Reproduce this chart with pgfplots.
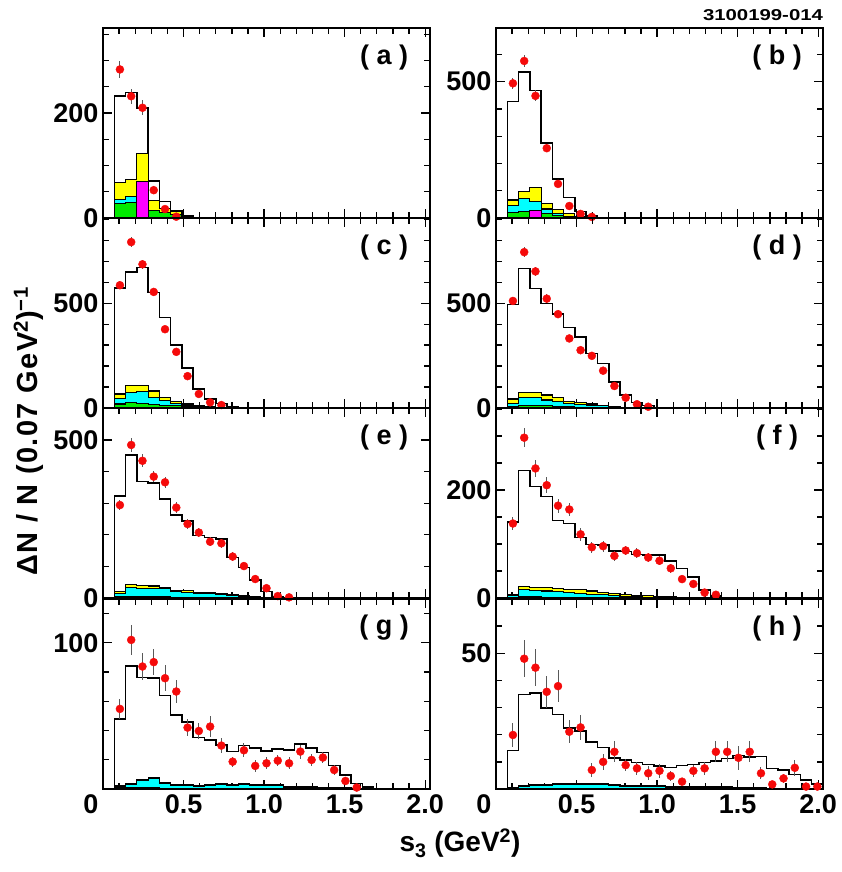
\documentclass[border=0pt]{standalone}
\usepackage{fontspec}
\setmainfont{Liberation Sans}
\usepackage{graphicx}
\usepackage{pgfplots}
\pgfplotsset{compat=1.18}
\usepackage{pgfplotstable}

\definecolor{cyel}{RGB}{255,255,0}
\definecolor{ccya}{RGB}{0,255,255}
\definecolor{cgrn}{RGB}{0,235,0}
\definecolor{cmag}{RGB}{255,0,255}
\definecolor{cred}{RGB}{245,10,10}

% histogram tables: x = left bin edge; last row closes the last bin
\pgfplotstableread{
x tot yel cya grn
0.07 232 67 36 27
0.14 239 74 41 30
0.21 210 123 45 25
0.28 70 34 14 14
0.35 31 18 10 10
0.42 14 12 7 7
0.49 4 2 1 1
0.56 1 0 0 0
0.63 1 0 0 0
}\hA
\pgfplotstableread{
x y e
0.105 283 16
0.175 232 14
0.245 210 14
0.315 53 7
0.385 17 4
0.455 2.5 2
}\dA

\pgfplotstableread{
x tot yel cya grn
0.07 427 66 45 20
0.14 535 97 72 23
0.21 467 113 60 23
0.28 276 54 33 15
0.35 143 32 15 10
0.42 76 17 5 5
0.49 23 5 2 2
0.56 7 0 0 0
0.63 7 0 0 0
}\hB
\pgfplotstableread{
x y e
0.105 494 20
0.175 576 22
0.245 448 20
0.315 256 15
0.385 125 11
0.455 44 6
0.525 15 4
0.595 4 2
}\dB

\pgfplotstableread{
x tot yel cya grn
0.07 573 67 46 19
0.14 649 106 73 25
0.21 670 106 78 22
0.28 551 81 51 18
0.35 432 51 35 12
0.42 300 33 22 10
0.49 192 19 14 6
0.56 90 11 7 3
0.63 43 6 3 2
0.70 22 3 2 1
0.77 7 1 0 0
0.84 2 0 0 0
0.91 2 0 0 0
}\hC
\pgfplotstableread{
x y e
0.105 586 20
0.175 792 24
0.245 686 22
0.315 554 20
0.385 376 17
0.455 268 14
0.525 152 11
0.595 67 8
0.665 27 5
0.735 14 4
}\dC

\pgfplotstableread{
x tot yel cya grn
0.07 495 43 22 6
0.14 665 73 49 14
0.21 570 76 51 11
0.28 498 62 38 10
0.35 448 51 30 8
0.42 384 33 22 5
0.49 340 27 17 4
0.56 260 19 14 3
0.63 213 14 11 2
0.70 125 6 6 1
0.77 62 4 3 1
0.84 27 2 1 0
0.91 11 1 0 0
0.98 3 0 0 0
1.05 3 0 0 0
}\hD
\pgfplotstableread{
x y e
0.105 511 20
0.175 744 24
0.245 652 22
0.315 522 20
0.385 448 19
0.455 332 16
0.525 276 15
0.595 249 14
0.665 178 12
0.735 105 9
0.805 49 6
0.875 18 4
0.945 6 2
}\dD

\pgfplotstableread{
x tot yel cya grn
0.07 323 20 15 3
0.14 453 43 33 5
0.21 368 40 31 5
0.28 363 38 30 4
0.35 313 34 29 3
0.42 263 25 21 2
0.49 244 24 18 2
0.56 197 17 15 1
0.63 191 16 14 1
0.70 187 13 11 1
0.77 128 10 8 0
0.84 97 7 5 0
0.91 57 4 3 0
0.98 20 2 1 0
1.05 4 0 0 0
1.12 1 0 0 0
1.19 1 0 0 0
}\hE
\pgfplotstableread{
x y e
0.105 294 17
0.175 484 21
0.245 434 20
0.315 384 18
0.385 366 18
0.455 286 17
0.525 234 16
0.595 207 14
0.665 178 14
0.735 173 15
0.805 131 13
0.875 101 12
0.945 60 10
1.015 31 8
1.085 6 5
1.155 2 3
}\dE

\pgfplotstableread{
x tot yel cya grn
0.07 141 7 4 1
0.14 236 21 16 2
0.21 207 20 14 2
0.28 188 19 13 1
0.35 144 17 12 1
0.42 138 16 11 1
0.49 112 15 9 0
0.56 99 13 7 0
0.63 98 11 6 0
0.70 87 9 5 0
0.77 86 7 3 0
0.84 81 5 2 0
0.91 80 4 1 0
0.98 80 3 1 0
1.05 69 2 0 0
1.12 55 1 0 0
1.19 39 1 0 0
1.26 15 0 0 0
1.33 4 0 0 0
1.40 1 0 0 0
1.47 1 0 0 0
}\hF
\pgfplotstableread{
x y e
0.105 138 12
0.175 297 18
0.245 240 15
0.315 209 15
0.385 171 13
0.455 164 12
0.525 118 12
0.595 94 10
0.665 96 10
0.735 78 9
0.805 88 9
0.875 83 9
0.945 75 9
1.015 69 8
1.085 55 8
1.155 35 6
1.225 26 6
1.295 10 4
1.365 6 3
}\dF

\pgfplotstableread{
x tot yel cya grn
0.07 48 2.6 2 0.8
0.14 84.2 4 3.4 0.8
0.21 76.3 6.3 5.7 0.8
0.28 75.8 7.6 7 0.8
0.35 63.9 4.5 3.9 0.6
0.42 50.7 3.3 2.7 0.5
0.49 45.7 2.9 2.3 0
0.56 35.2 2.4 1.8 0
0.63 33.6 3.3 2.7 0
0.70 30.1 3.8 3.2 0
0.77 25.6 3.3 2.7 0
0.84 29.7 3.8 3.2 0
0.91 27.9 3.3 2.7 0
0.98 26 3.1 2.5 0
1.05 27.4 2.9 2.3 0
1.12 26.7 1.7 1.1 0
1.19 30.8 1.6 1 0
1.26 27.9 1.4 0.8 0
1.33 25.1 1.2 0.6 0
1.40 16 1 0.4 0
1.47 9.6 0.8 0.3 0
1.54 3.9 0.4 0 0
1.61 1.2 0 0 0
1.68 1.2 0 0 0
}\hG
\pgfplotstableread{
x y e
0.105 54.8 7
0.175 102 10
0.245 83.8 9
0.315 86.8 9
0.385 75.8 9
0.455 66.7 8
0.525 42 6
0.595 39.7 5.6
0.665 42.7 7
0.735 29.7 5
0.805 18.7 3.5
0.875 26.5 4.8
0.945 15.8 3.9
1.015 17.6 4
1.085 19.4 4
1.155 17.6 4
1.225 25.6 4.8
1.295 19.9 4.3
1.365 21.5 4
1.435 13 3.4
1.505 5.5 2.5
1.575 1 1.5
}\dG

\pgfplotstableread{
x tot yel cya grn
0.07 14.1 0.6 0.4 0
0.14 34.9 1.3 1.0 0
0.21 35.4 1.6 1.3 0
0.28 29.9 1.7 1.4 0
0.35 27.5 1.9 1.6 0
0.42 22.5 1.9 1.6 0
0.49 21.3 2.1 1.8 0
0.56 17.4 2.1 1.8 0
0.63 15.3 1.9 1.6 0
0.70 11.5 1.6 1.3 0
0.77 10.7 1.3 1.0 0
0.84 9.7 1.3 1.0 0
0.91 9.1 1.1 0.8 0
0.98 8.5 1.1 0.8 0
1.05 8 1.0 0.7 0
1.12 8.6 0.9 0.6 0
1.19 9.1 0.9 0.6 0
1.26 9.8 0.8 0.5 0
1.33 10.4 0.8 0.5 0
1.40 11.3 0.8 0.5 0
1.47 12.3 0.7 0.4 0
1.54 11.7 0.5 0.3 0
1.61 11.9 0.5 0.3 0
1.68 7.6 0.3 0.2 0
1.75 7 0.3 0.2 0
1.82 5.4 0.2 0.1 0
1.89 3.3 0.1 0.1 0
1.96 1.8 0 0 0
2.03 1.8 0 0 0
}\hH
\pgfplotstableread{
x y e
0.105 19.9 4.4
0.175 48 6.9
0.245 44.7 6.7
0.315 35.8 5.8
0.385 37.9 6
0.455 21.1 4.3
0.525 22.7 4.7
0.595 7 2.6
0.665 10 3
0.735 13.7 3.8
0.805 8.8 2.3
0.875 7.6 2.3
0.945 5.8 2.5
1.015 6.7 2.5
1.085 4.8 1.7
1.155 2.7 1.2
1.225 6.7 2.3
1.295 7.6 2.5
1.365 13.7 3.8
1.435 13.7 3.8
1.505 11.5 4.5
1.575 13.7 3.8
1.645 5.8 2.3
1.715 1.7 1.2
1.785 3.9 1.8
1.855 7.8 3
1.925 0.9 1
1.995 0.9 1
}\dH

\tikzset{plab/.style={font=\fontsize{27}{27}\selectfont\bfseries}}

\pgfplotsset{
  panel/.style={
    scale only axis, width=327pt, height=190pt, anchor=south west,
    xmin=0, xmax=2.03, ymin=0, clip=false,
    axis line style={line width=1.6pt},
    every tick/.style={line width=1.3pt, black},
    major tick length=9pt, minor tick length=6pt,
    tick align=inside, xtick pos=both, ytick pos=both,
    xtick={0.5,1,1.5,2}, minor xtick={0.1,0.2,0.3,0.4,0.6,0.7,0.8,0.9,1.1,1.2,1.3,1.4,1.6,1.7,1.8,1.9},
    xticklabels={},
    ticklabel style={font=\fontsize{27}{27}\selectfont\bfseries},
    yticklabel style={xshift=-1pt},
    xticklabel style={yshift=-2pt},
  },
  bottomrow/.style={
    xticklabels={0.5,1.0,1.5,2.0},
    extra x ticks={0}, extra x tick labels={0},
    extra x tick style={major tick length=0pt, xticklabel style={xshift=-12pt}},
  },
  hist/.style={const plot, black, line width=1.5pt, no marks},
  comp/.style={const plot, draw=black, line width=1.1pt, no marks},
  dat/.style={only marks, mark=*, mark size=4pt, color=cred,
    error bars/.cd, y dir=both, y explicit, error mark=none,
    error bar style={line width=1pt, black!65}},
}

\newcommand\panel[1]{% histogram table
  \addplot[hist] table[x=x,y=tot]{#1} \closedcycle;
  \addplot[comp, fill=cyel] table[x=x,y=yel]{#1} \closedcycle;
  \addplot[comp, fill=ccya] table[x=x,y=cya]{#1} \closedcycle;
  \addplot[comp, fill=cgrn] table[x=x,y=grn]{#1} \closedcycle;
}

\begin{document}
\begin{tikzpicture}[x=1pt,y=1pt]
\path[use as bounding box] (0,0) rectangle (842,872);

% (a)
\begin{axis}[panel, at={(103pt,654pt)}, ymax=362, ytick={0,200}, yticklabels={0,200},
  minor ytick={50,100,150,250,300,350}]
\panel{\hA}
\addplot[comp, fill=cmag] coordinates {(0.21,69) (0.28,69)} \closedcycle;
\addplot[dat] table[x=x,y=y,y error=e]{\dA};
\node[plab] at (rel axis cs:0.86,0.847) {( a )};
\end{axis}

% (b)
\begin{axis}[panel, at={(496pt,654pt)}, ymax=697, ytick={0,500}, yticklabels={0,500},
  minor ytick={100,200,300,400,600}]
\panel{\hB}
\addplot[comp, fill=cmag] coordinates {(0.21,27) (0.28,27)} \closedcycle;
\addplot[dat] table[x=x,y=y,y error=e]{\dB};
\node[plab] at (rel axis cs:0.86,0.847) {( b )};
\end{axis}

% (c)
\begin{axis}[panel, at={(103pt,464pt)}, ymax=907, ytick={0,500}, yticklabels={0,500},
  minor ytick={100,200,300,400,600,700,800,900}]
\panel{\hC}
\addplot[dat] table[x=x,y=y,y error=e]{\dC};
\node[plab] at (rel axis cs:0.86,0.847) {( c )};
\end{axis}

% (d)
\begin{axis}[panel, at={(496pt,464pt)}, ymax=907, ytick={0,500}, yticklabels={0,500},
  minor ytick={100,200,300,400,600,700,800,900}]
\panel{\hD}
\addplot[dat] table[x=x,y=y,y error=e]{\dD};
\node[plab] at (rel axis cs:0.86,0.847) {( d )};
\end{axis}

% (e)
\begin{axis}[panel, at={(103pt,274pt)}, ymax=601, ytick={0,500}, yticklabels={0,500},
  minor ytick={100,200,300,400,600}]
\panel{\hE}
\addplot[dat] table[x=x,y=y,y error=e]{\dE};
\node[plab] at (rel axis cs:0.86,0.847) {( e )};
\end{axis}

% (f)
\begin{axis}[panel, at={(496pt,274pt)}, ymax=352, ytick={0,200}, yticklabels={0,200},
  minor ytick={50,100,150,250,300,350}]
\panel{\hF}
\addplot[dat] table[x=x,y=y,y error=e]{\dF};
\node[plab] at (rel axis cs:0.86,0.847) {( f )};
\end{axis}

% (g)
\begin{axis}[panel, bottomrow, at={(103pt,83pt)}, ymax=130, ytick={0,100}, yticklabels={,100},
  minor ytick={20,40,60,80,120}]
\panel{\hG}
\addplot[dat] table[x=x,y=y,y error=e]{\dG};
\node[plab] at (rel axis cs:0.86,0.847) {( g )};
\end{axis}

% (h)
\begin{axis}[panel, bottomrow, at={(496pt,83pt)}, ymax=70, ytick={0,50}, yticklabels={,50},
  minor ytick={10,20,30,40,60}]
\panel{\hH}
\addplot[dat] table[x=x,y=y,y error=e]{\dH};
\node[plab] at (rel axis cs:0.86,0.847) {( h )};
\end{axis}

\node[rotate=90, anchor=base, font=\fontsize{29}{29}\selectfont\bfseries\addfontfeature{LetterSpace=5}]
  at (37,441) {ΔN / N (0.07 GeV\textsuperscript{2})\textsuperscript{−1}};
\node[anchor=base, font=\fontsize{28}{28}\selectfont\bfseries]
  at (460,20) {s\textsubscript{3} (GeV\textsuperscript{2})};
\node[anchor=center, font=\bfseries] at (763,857)
  {\resizebox{120pt}{11pt}{3100199-014}};
\end{tikzpicture}
\end{document}
